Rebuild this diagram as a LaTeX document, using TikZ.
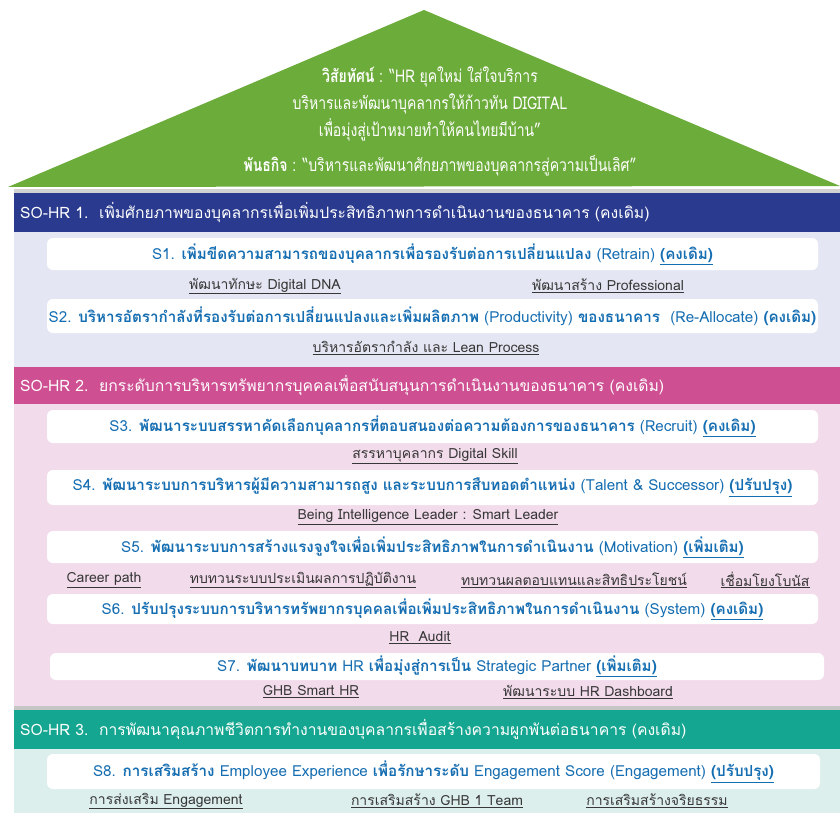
\documentclass[tikz,border=0pt]{standalone}
\usepackage{fontspec}
\newfontfamily\thaifont[Script=Thai]{Loma}
\newfontfamily\thainarrow[Script=Thai,FakeStretch=0.8]{Loma}
\usepackage{tikz}
\usetikzlibrary{positioning}
\definecolor{roofgreen}{RGB}{108,172,58}
\definecolor{sonavy}{RGB}{42,58,143}
\definecolor{sopink}{RGB}{206,80,146}
\definecolor{soteal}{RGB}{20,166,144}
\definecolor{bodyblue}{RGB}{228,231,243}
\definecolor{bodypink}{RGB}{242,219,235}
\definecolor{bodyteal}{RGB}{221,239,237}
\definecolor{stext}{RGB}{22,110,178}
\definecolor{subtext}{RGB}{55,55,55}
\newcommand{\tb}[1]{\textbf{#1}}
\newcommand{\stat}[1]{\underline{\textbf{#1}}}
\newcommand{\actitem}[1]{\underline{#1}}

\begin{document}
\begin{tikzpicture}[
    x=1pt, y=-1pt,
    font=\thaifont,
    band/.style={anchor=west, text=white, inner sep=0pt,
                 font=\thaifont\fontsize{15.7}{17}\selectfont},
    sbox/.style={fill=white, rounded corners=6pt, minimum width=771pt,
                 inner sep=0pt, text=stext, font=\thaifont\fontsize{15.2}{17}\selectfont},
    sub/.style={text=subtext, inner sep=0pt, font=\thaifont\fontsize{14}{16}\selectfont},
    roof/.style={text=white, inner sep=0pt, font=\thainarrow\fontsize{17.5}{19}\selectfont}
]
\useasboundingbox (0,0) rectangle (840,813);
\fill[white] (0,0) rectangle (840,813);

% roof: vision and mission
\fill[roofgreen] (424,10) -- (840,186) -- (8,187) -- cycle;
\node[roof] (vis1) at (430,77) {\textbf{วิสัยทัศน์} : “HR ยุคใหม่ ใส่ใจบริการ};
\node[roof] (vis2) at (430,104) {บริหารและพัฒนาบุคลากรให้ก้าวทัน DIGITAL};
\node[roof] (vis3) at (430,130) {เพื่อมุ่งสู่เป้าหมายทำให้คนไทยมีบ้าน”};
\node[roof] (mis) at (440,166) {\textbf{พันธกิจ} : “บริหารและพัฒนาศักยภาพของบุคลากรสู่ความเป็นเลิศ”};

% section backgrounds
\fill[gray!35] (14,189) rectangle (840,193);
\fill[sonavy] (14,193) rectangle (840,232);
\fill[bodyblue] (14,232) rectangle (840,367);
\fill[sopink] (14,367) rectangle (840,404);
\fill[bodypink] (14,404) rectangle (840,706);
\fill[gray!45] (14,706) rectangle (840,710);
\fill[soteal] (14,710) rectangle (840,749);
\fill[bodyteal] (14,749) rectangle (840,813);

% SO-HR 1
\node[band] (so1) at (20,212) {SO-HR 1.\ \ เพิ่มศักยภาพของบุคลากรเพื่อเพิ่มประสิทธิภาพการดำเนินงานของธนาคาร (คงเดิม)};
\node[sbox, minimum height=32pt] (s1) at (432.5,254)
     {S1. \tb{เพิ่มขีดความสามารถของบุคลากรเพื่อรองรับต่อการเปลี่ยนแปลง} (Retrain) \stat{(คงเดิม)}};
\node[sub] (dna) at (265,286) {\actitem{พัฒนาทักษะ Digital DNA}};
\node[sub] (prof) at (608,286) {\actitem{พัฒนาสร้าง Professional}};
\node[sbox, minimum height=34pt] (s2) at (432.5,316)
     {S2. \tb{บริหารอัตรากำลังที่รองรับต่อการเปลี่ยนแปลงและเพิ่มผลิตภาพ} (Productivity) \tb{ของธนาคาร}\ \ (Re-Allocate) \tb{(คงเดิม)}};
\node[sub] (lean) at (426,348) {\actitem{บริหารอัตรากำลัง และ Lean Process}};

% SO-HR 2
\node[band] (so2) at (20,385) {SO-HR 2.\ \ ยกระดับการบริหารทรัพยากรบุคคลเพื่อสนับสนุนการดำเนินงานของธนาคาร (คงเดิม)};
\node[sbox, minimum height=33pt] (s3) at (432.5,426.5)
     {S3. \tb{พัฒนาระบบสรรหาคัดเลือกบุคลากรที่ตอบสนองต่อความต้องการของธนาคาร} (Recruit) \stat{(คงเดิม)}};
\node[sub] (skill) at (435,456) {\actitem{สรรหาบุคลากร Digital Skill}};
\node[sbox, minimum height=35pt] (s4) at (432.5,487.5)
     {S4. \tb{พัฒนาระบบการบริหารผู้มีความสามารถสูง และระบบการสืบทอดตำแหน่ง} (Talent \& Successor) \stat{(ปรับปรุง)}};
\node[sub] (lead) at (428,517) {\actitem{Being Intelligence Leader : Smart Leader}};
\node[sbox, minimum height=32pt] (s5) at (432.5,547)
     {S5. \tb{พัฒนาระบบการสร้างแรงจูงใจเพื่อเพิ่มประสิทธิภาพในการดำเนินงาน} (Motivation) \stat{(เพิ่มเติม)}};
\node[sub] (career) at (104,580) {\actitem{Career path}};
\node[sub] (appr) at (303,580) {\actitem{ทบทวนระบบประเมินผลการปฏิบัติงาน}};
\node[sub] (comp) at (574,580) {\actitem{ทบทวนผลตอบแทนและสิทธิประโยชน์}};
\node[sub] (bonus) at (765,580) {\actitem{เชื่อมโยงโบนัส}};
\node[sbox, minimum height=30pt] (s6) at (432.5,609)
     {S6. \tb{ปรับปรุงระบบการบริหารทรัพยากรบุคคลเพื่อเพิ่มประสิทธิภาพในการดำเนินงาน} (System) \stat{(คงเดิม)}};
\node[sub] (audit) at (420,638) {\actitem{HR\ \ Audit}};
\node[sbox, minimum width=774pt, minimum height=27pt] (s7) at (437,666.5)
     {S7. \tb{พัฒนาบทบาท} HR \tb{เพื่อมุ่งสู่การเป็น} Strategic Partner \stat{(เพิ่มเติม)}};
\node[sub] (ghb) at (311,692) {\actitem{GHB Smart HR}};
\node[sub] (dash) at (588,692) {\actitem{พัฒนาระบบ HR Dashboard}};

% SO-HR 3
\node[band] (so3) at (20,729) {SO-HR 3.\ \ การพัฒนาคุณภาพชีวิตการทำงานของบุคลากรเพื่อสร้างความผูกพันต่อธนาคาร (คงเดิม)};
\node[sbox, minimum width=773pt, minimum height=35pt] (s8) at (433.5,771.5)
     {S8. \tb{การเสริมสร้าง} Employee Experience \tb{เพื่อรักษาระดับ} Engagement Score (Engagement) \stat{(ปรับปรุง)}};
\node[sub] (eng) at (166,801) {\actitem{การส่งเสริม Engagement}};
\node[sub] (team) at (437,801) {\actitem{การเสริมสร้าง GHB 1 Team}};
\node[sub] (ethic) at (657,801) {\actitem{การเสริมสร้างจริยธรรม}};
\end{tikzpicture}
\end{document}
